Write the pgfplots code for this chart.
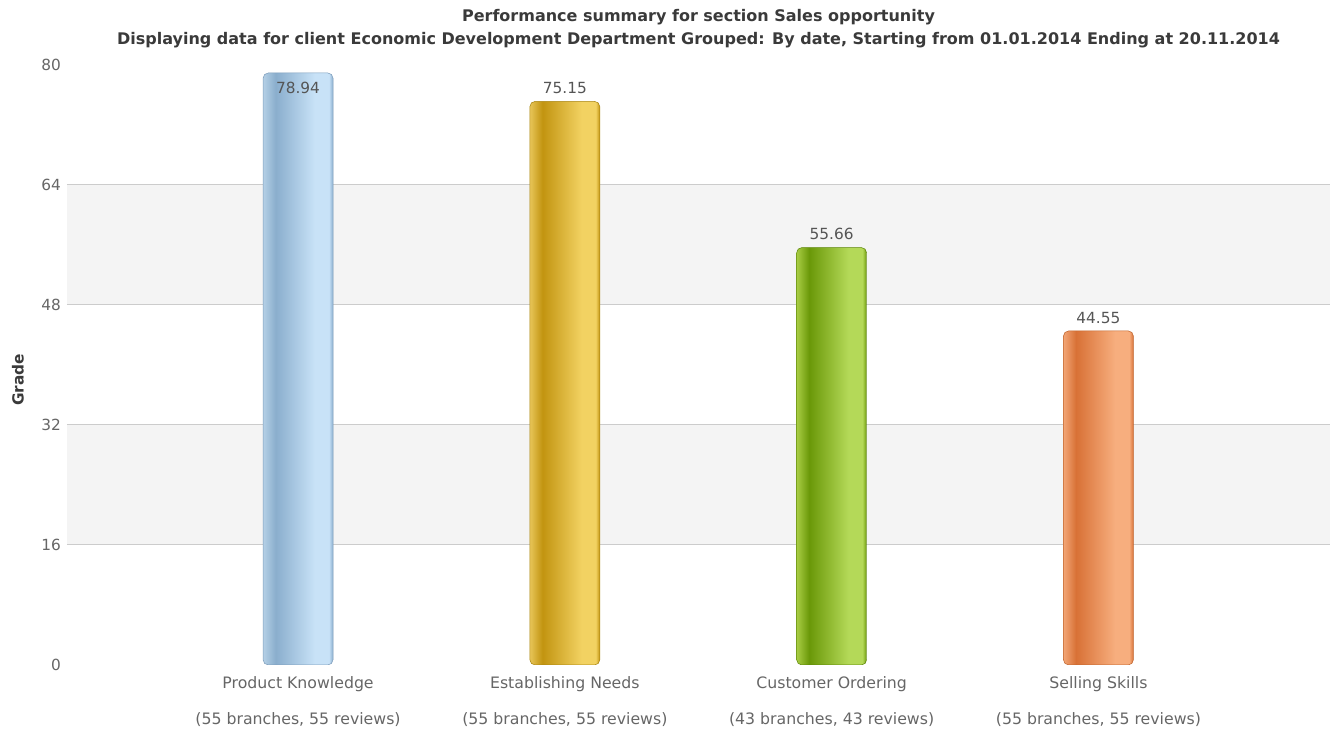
\documentclass[border=0pt]{standalone}
\usepackage{pgfplots}
\pgfplotsset{compat=1.18}
\usepackage{fontspec}
\setmainfont{DejaVu Sans}
\definecolor{tickgray}{HTML}{666666}
\definecolor{titlegray}{HTML}{3A3A3A}
\definecolor{gridgray}{HTML}{CCCCCC}
\definecolor{bandgray}{HTML}{F4F4F4}
\definecolor{valgray}{HTML}{555555}
% blue
\definecolor{bE}{HTML}{B5D0E6}\definecolor{bD}{HTML}{8AAECD}\definecolor{bL}{HTML}{C8E2F7}\definecolor{bB}{HTML}{7C9CBA}
% gold
\definecolor{gE}{HTML}{E8C558}\definecolor{gD}{HTML}{C29410}\definecolor{gL}{HTML}{F2D262}\definecolor{gB}{HTML}{A88410}
% green
\definecolor{nE}{HTML}{A9CD44}\definecolor{nD}{HTML}{6A9808}\definecolor{nL}{HTML}{B4D958}\definecolor{nB}{HTML}{5C8606}
% orange
\definecolor{oE}{HTML}{F2A676}\definecolor{oD}{HTML}{D87136}\definecolor{oL}{HTML}{F7AE7E}\definecolor{oB}{HTML}{C0642C}
\pgfdeclarehorizontalshading{cylblue}{100bp}{color(0bp)=(bE); color(25bp)=(bE); color(34bp)=(bD); color(62bp)=(bL); color(72bp)=(bL); color(75bp)=(bD); color(100bp)=(bD)}
\pgfdeclarehorizontalshading{cylgold}{100bp}{color(0bp)=(gE); color(25bp)=(gE); color(34bp)=(gD); color(62bp)=(gL); color(72bp)=(gL); color(75bp)=(gD); color(100bp)=(gD)}
\pgfdeclarehorizontalshading{cylgreen}{100bp}{color(0bp)=(nE); color(25bp)=(nE); color(34bp)=(nD); color(62bp)=(nL); color(72bp)=(nL); color(75bp)=(nD); color(100bp)=(nD)}
\pgfdeclarehorizontalshading{cylorange}{100bp}{color(0bp)=(oE); color(25bp)=(oE); color(34bp)=(oD); color(62bp)=(oL); color(72bp)=(oL); color(75bp)=(oD); color(100bp)=(oD)}
\begin{document}
\begin{tikzpicture}
\path[use as bounding box] (-50.25pt,-49.5pt) rectangle (951pt,498.75pt);
\begin{axis}[
  at={(0,0)}, anchor=south west,
  scale only axis, width=947.25pt, height=450pt,
  xmin=-0.866, xmax=3.868, ymin=0, ymax=80,
  axis line style={draw=none}, major tick length=0pt,
  /pgf/number format/assume math mode=true,
  ytick={0,16,...,80},
  yticklabel style={text=tickgray, font=\fontsize{11.5}{14}\selectfont, xshift=-1pt},
  xtick={0,1,2,3},
  xticklabels={{Product Knowledge\\[12.5pt](55 branches, 55 reviews)},
               {Establishing Needs\\[12.5pt](55 branches, 55 reviews)},
               {Customer Ordering\\[12.5pt](43 branches, 43 reviews)},
               {Selling Skills\\[12.5pt](55 branches, 55 reviews)}},
  xticklabel style={align=center, text=tickgray, font=\fontsize{11.8}{14.5}\selectfont, yshift=-5.25pt},
  ylabel={Grade},
  ylabel style={at={(axis description cs:-0.0388,0.475)}, anchor=center, font=\fontsize{11.5}{14}\bfseries, text=titlegray},
  title={Performance summary for section Sales opportunity\\Displaying data for client Economic Development Department Grouped: By date, Starting from 01.01.2014 Ending at 20.11.2014},
  title style={align=center, font=\fontsize{12}{17.25}\bfseries\selectfont, text=titlegray, at={(0.5,1)}, anchor=south, yshift=3.5pt},
  nodes near coords style={text=valgray, font=\fontsize{11.5}{14}\selectfont},
]
\addplot[fill=bandgray, draw=none, forget plot] coordinates {(-0.866,16) (3.868,16) (3.868,32) (-0.866,32)} -- cycle;
\addplot[fill=bandgray, draw=none, forget plot] coordinates {(-0.866,48) (3.868,48) (3.868,64) (-0.866,64)} -- cycle;
\addplot[draw=gridgray, line width=0.75pt, forget plot] coordinates {(-0.866,16) (3.868,16)};
\addplot[draw=gridgray, line width=0.75pt, forget plot] coordinates {(-0.866,32) (3.868,32)};
\addplot[draw=gridgray, line width=0.75pt, forget plot] coordinates {(-0.866,48) (3.868,48)};
\addplot[draw=gridgray, line width=0.75pt, forget plot] coordinates {(-0.866,64) (3.868,64)};
\addplot[ybar, bar width=52.5pt, bar shift=0pt, draw=bB, shading=cylblue, shading angle=0, rounded corners=4pt,
  nodes near coords, nodes near coords style={anchor=north, yshift=-3pt}] coordinates {(0,78.94)};
\addplot[ybar, bar width=52.5pt, bar shift=0pt, draw=gB, shading=cylgold, shading angle=0, rounded corners=4pt,
  nodes near coords, nodes near coords style={anchor=south, yshift=2pt}] coordinates {(1,75.15)};
\addplot[ybar, bar width=52.5pt, bar shift=0pt, draw=nB, shading=cylgreen, shading angle=0, rounded corners=4pt,
  nodes near coords, nodes near coords style={anchor=south, yshift=2pt}] coordinates {(2,55.66)};
\addplot[ybar, bar width=52.5pt, bar shift=0pt, draw=oB, shading=cylorange, shading angle=0, rounded corners=4pt,
  nodes near coords, nodes near coords style={anchor=south, yshift=2pt}] coordinates {(3,44.55)};
\end{axis}
\end{tikzpicture}
\end{document}
